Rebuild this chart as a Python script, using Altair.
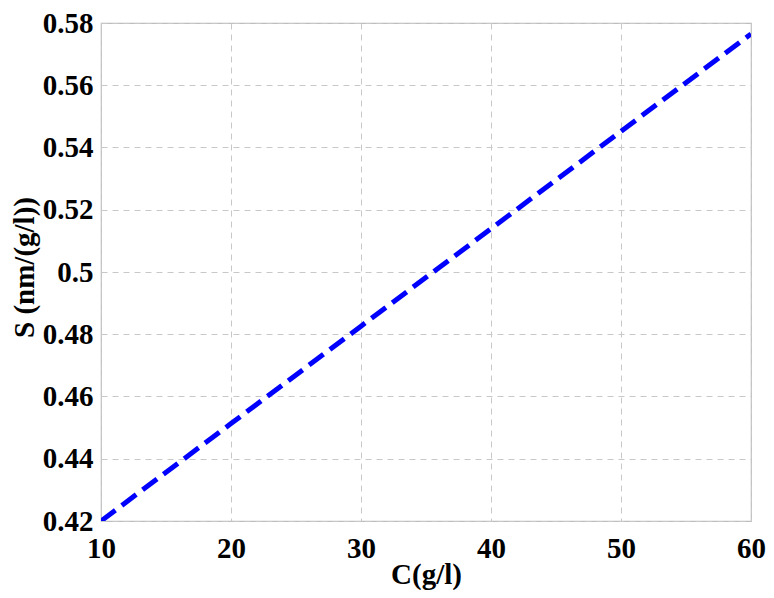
import altair as alt
import pandas as pd

c_vals = [10, 20, 30, 40, 50, 60]
s_vals = [0.4200, 0.4513, 0.4826, 0.5139, 0.5452, 0.5765]
x_ticks = [10, 20, 30, 40, 50, 60]
y_ticks = [0.42, 0.44, 0.46, 0.48, 0.5, 0.52, 0.54, 0.56, 0.58]

df = pd.DataFrame({"C": c_vals, "S": s_vals})

font = "Liberation Serif"

chart = alt.Chart(df).mark_line(
    color="#0000ff", strokeWidth=5, strokeDash=[18, 8], clip=True
).encode(
    x=alt.X("C:Q", scale=alt.Scale(domain=[10, 60], nice=False),
            axis=alt.Axis(title="C(g/l)", values=x_ticks, format="d",
                          labelFlush=False, labelPadding=13,
                          titleX=325, titleY=53, titleBaseline="middle")),
    y=alt.Y("S:Q", scale=alt.Scale(domain=[0.42, 0.58], nice=False, zero=False),
            axis=alt.Axis(title="S (nm/(g/l))", values=y_ticks,
                          labelExpr="format(datum.value, '.2~f')", labelFlush=False,
                          labelPadding=8, titleX=-77, titleY=244,
                          titleBaseline="middle")),
).properties(
    width=650, height=498,
    autosize=alt.AutoSizeParams(type="none"),
    padding={"left": 93, "top": 15, "right": 15, "bottom": 69},
).configure_axis(
    labelFont=font, labelFontSize=29, labelFontWeight="bold", labelColor="black",
    titleFont=font, titleFontSize=29, titleFontWeight="bold", titleColor="black",
    grid=True, gridColor="#c8c8c8", gridDash=[6, 5], gridWidth=1,
    domain=False, ticks=False,
).configure_view(
    stroke="#bdbdbd", strokeWidth=1.2
)

chart.save("out.html", embed_options={"renderer": "svg", "actions": False})
